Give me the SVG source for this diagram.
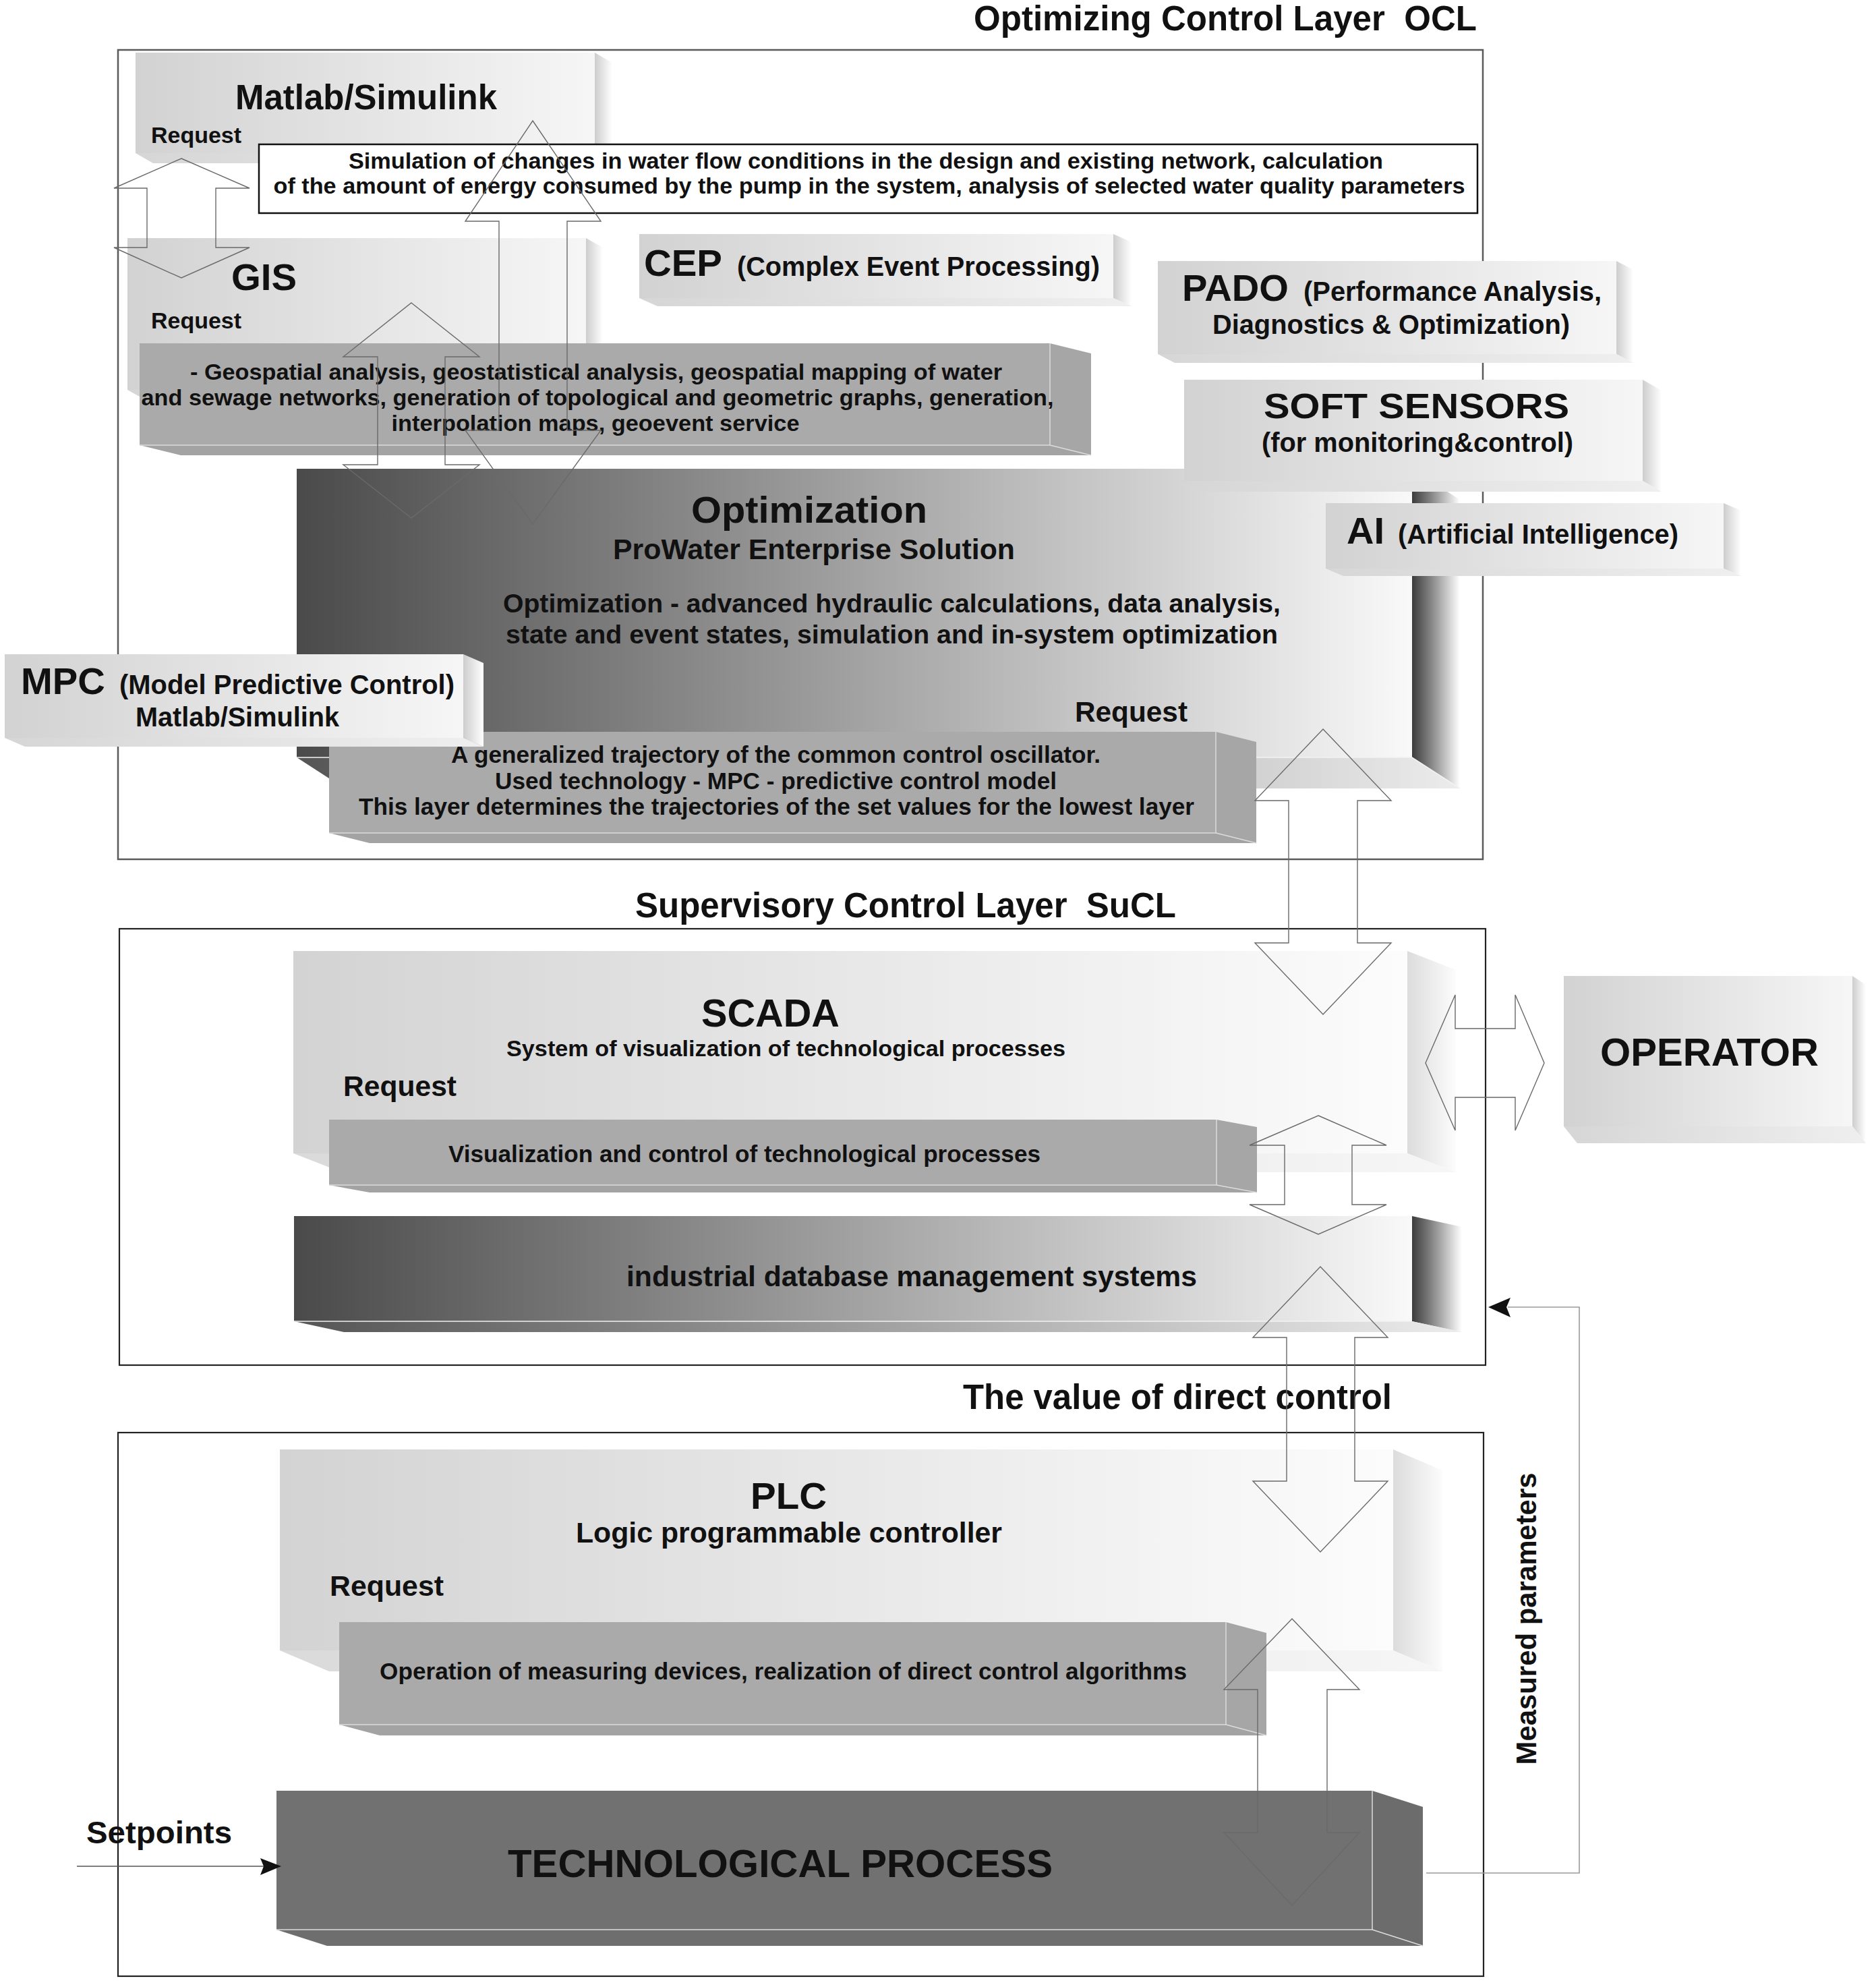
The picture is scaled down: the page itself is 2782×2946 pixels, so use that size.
<svg xmlns="http://www.w3.org/2000/svg" width="2782" height="2946" viewBox="0 0 2782 2946">
<style>
.t{font-family:"Liberation Sans",Arial,sans-serif;font-weight:bold;fill:#111;white-space:pre}
.frameA{fill:none;stroke:#5a5a5a;stroke-width:2.5}
.frameB{fill:none;stroke:#222;stroke-width:2.2}
.arrow{fill:none;stroke:#6a6a6a;stroke-width:1.4;stroke-linejoin:miter}
.mid{fill:#aaaaaa}
.midS{fill:#a6a6a6}
.midB{fill:#a3a3a3}
.hl{fill:none;stroke:#dcdcdc;stroke-width:1.5}
.hlw{fill:none;stroke:#f2f2f2;stroke-width:1.5}
.tp{fill:#717171}
.tpS{fill:#6c6c6c}
.tpB{fill:#6e6e6e}
</style>
<defs>
<linearGradient id="gL" x1="0" y1="0" x2="1" y2="0"><stop offset="0" stop-color="#d2d2d2"/><stop offset="1" stop-color="#f6f6f6"/></linearGradient>
<linearGradient id="gLS" x1="0" y1="0" x2="1" y2="0"><stop offset="0" stop-color="#cdcdcd"/><stop offset="1" stop-color="#ffffff"/></linearGradient>
<linearGradient id="gLB" x1="0" y1="0" x2="1" y2="0"><stop offset="0" stop-color="#d6d6d6"/><stop offset="1" stop-color="#efefef"/></linearGradient>
<linearGradient id="gP" x1="0" y1="0" x2="1" y2="0"><stop offset="0" stop-color="#d3d3d3"/><stop offset="1" stop-color="#fcfcfc"/></linearGradient>
<linearGradient id="gPS" x1="0" y1="0" x2="1" y2="0"><stop offset="0" stop-color="#dcdcdc"/><stop offset="1" stop-color="#fcfcfc"/></linearGradient>
<linearGradient id="gPB" x1="0" y1="0" x2="1" y2="0"><stop offset="0" stop-color="#dadada"/><stop offset="1" stop-color="#f6f6f6"/></linearGradient>
<linearGradient id="gD" x1="0" y1="0" x2="1" y2="0"><stop offset="0" stop-color="#4a4a4a"/><stop offset="1" stop-color="#f9f9f9"/></linearGradient>
<linearGradient id="gDS" x1="0" y1="0" x2="1" y2="0"><stop offset="0" stop-color="#3c3c3c"/><stop offset="0.35" stop-color="#7c7c7c"/><stop offset="1" stop-color="#ffffff"/></linearGradient>
<linearGradient id="gDB" x1="0" y1="0" x2="1" y2="0"><stop offset="0" stop-color="#555555"/><stop offset="1" stop-color="#ececec"/></linearGradient>
</defs>
<rect width="2782" height="2946" fill="#ffffff"/>

<g id="layer-ocl">
<rect class="frameA" x="175" y="74" width="2024" height="1200"/>
<text class="t" x="1444" y="45" font-size="51" textLength="746" lengthAdjust="spacingAndGlyphs">Optimizing Control Layer  OCL</text>
</g>

<g id="matlab">
<polygon points="882,78 908,93 908,242 882,227" fill="url(#gLS)"/>
<polygon points="201,227 882,227 908,242 227,242" fill="url(#gLB)"/>
<rect x="201" y="78" width="681" height="149" fill="url(#gL)"/>
<text class="t" x="349" y="162" font-size="51" textLength="388" lengthAdjust="spacingAndGlyphs">Matlab/Simulink</text>
<text class="t" x="224" y="212" font-size="34" textLength="134" lengthAdjust="spacingAndGlyphs">Request</text>
</g>

<g id="gis">
<polygon points="869,353 894,367 894,592 869,578" fill="url(#gLS)"/>
<polygon points="189,578 869,578 894,592 214,592" fill="url(#gLB)"/>
<rect x="189" y="353" width="680" height="225" fill="url(#gL)"/>
<text class="t" x="343" y="430" font-size="56" textLength="97" lengthAdjust="spacingAndGlyphs">GIS</text>
<text class="t" x="224" y="487" font-size="34" textLength="134" lengthAdjust="spacingAndGlyphs">Request</text>
</g>

<g id="cep">
<polygon points="1651,347 1678,359 1678,454 1651,442" fill="url(#gLS)"/>
<polygon points="948,442 1651,442 1678,454 975,454" fill="url(#gLB)"/>
<rect x="948" y="347" width="703" height="95" fill="url(#gL)"/>
<text class="t" x="955" y="409" font-size="56" textLength="116" lengthAdjust="spacingAndGlyphs">CEP</text>
<text class="t" x="1093" y="409" font-size="40" textLength="538" lengthAdjust="spacingAndGlyphs">(Complex Event Processing)</text>
</g>

<g id="pado">
<polygon points="2397,387 2422,400 2422,538 2397,525" fill="url(#gLS)"/>
<polygon points="1717,525 2397,525 2422,538 1742,538" fill="url(#gLB)"/>
<rect x="1717" y="387" width="680" height="138" fill="url(#gL)"/>
<text class="t" x="1753" y="446" font-size="55" textLength="158" lengthAdjust="spacingAndGlyphs">PADO</text>
<text class="t" x="1933" y="446" font-size="40" textLength="442" lengthAdjust="spacingAndGlyphs">(Performance Analysis,</text>
<text class="t" x="1798" y="495" font-size="40" textLength="530" lengthAdjust="spacingAndGlyphs">Diagnostics &amp; Optimization)</text>
</g>

<g id="geospatial">
<polygon class="midS" points="1557,509 1618,524 1618,675 1557,660"/>
<polygon class="midB" points="207,660 1557,660 1618,675 268,675"/>
<rect class="mid" x="207" y="509" width="1350" height="151"/>
<polyline class="hl" points="207,660 1557,660 1557,509"/>
<line class="hl" x1="1557" y1="660" x2="1618" y2="675"/>
<text class="t" x="884" y="563" font-size="34" text-anchor="middle" textLength="1204" lengthAdjust="spacingAndGlyphs">- Geospatial analysis, geostatistical analysis, geospatial mapping of water</text>
<text class="t" x="886" y="601" font-size="34" text-anchor="middle" textLength="1353" lengthAdjust="spacingAndGlyphs">and sewage networks, generation of topological and geometric graphs, generation,</text>
<text class="t" x="883" y="639" font-size="34" text-anchor="middle" textLength="605" lengthAdjust="spacingAndGlyphs">interpolation maps, geoevent service</text>
</g>

<g id="optimization">
<polygon points="2094,695 2165,741 2165,1169 2094,1123" fill="url(#gDS)"/>
<polygon points="440,1123 2094,1123 2165,1169 511,1169" fill="url(#gDB)"/>
<rect x="440" y="695" width="1654" height="428" fill="url(#gD)"/>
<polyline class="hlw" points="440,1123 2094,1123 2165,1169"/>
<text class="t" x="1025" y="775" font-size="56" textLength="350" lengthAdjust="spacingAndGlyphs">Optimization</text>
<text class="t" x="909" y="829" font-size="42" textLength="596" lengthAdjust="spacingAndGlyphs">ProWater Enterprise Solution</text>
<text class="t" x="746" y="908" font-size="39" textLength="1153" lengthAdjust="spacingAndGlyphs">Optimization - advanced hydraulic calculations, data analysis,</text>
<text class="t" x="750" y="954" font-size="39" textLength="1145" lengthAdjust="spacingAndGlyphs">state and event states, simulation and in-system optimization</text>
<text class="t" x="1594" y="1070" font-size="42" textLength="167" lengthAdjust="spacingAndGlyphs">Request</text>
</g>

<g id="soft-sensors">
<polygon points="2436,563 2464,579 2464,729 2436,713" fill="url(#gLS)"/>
<polygon points="1756,713 2436,713 2464,729 1784,729" fill="url(#gLB)"/>
<rect x="1756" y="563" width="680" height="150" fill="url(#gL)"/>
<text class="t" x="1874" y="620" font-size="51" textLength="453" lengthAdjust="spacingAndGlyphs">SOFT SENSORS</text>
<text class="t" x="1871" y="670" font-size="40" textLength="462" lengthAdjust="spacingAndGlyphs">(for monitoring&amp;control)</text>
</g>

<g id="ai">
<polygon points="2556,746 2582,757 2582,854 2556,843" fill="url(#gLS)"/>
<polygon points="1966,843 2556,843 2582,854 1992,854" fill="url(#gLB)"/>
<rect x="1966" y="746" width="590" height="97" fill="url(#gL)"/>
<text class="t" x="1997" y="806" font-size="56" textLength="56" lengthAdjust="spacingAndGlyphs">AI</text>
<text class="t" x="2073" y="806" font-size="40" textLength="416" lengthAdjust="spacingAndGlyphs">(Artificial Intelligence)</text>
</g>

<g id="trajectory">
<polygon class="midS" points="1803,1085 1863,1100 1863,1250 1803,1235"/>
<polygon class="midB" points="488,1235 1803,1235 1863,1250 548,1250"/>
<rect class="mid" x="488" y="1085" width="1315" height="150"/>
<polyline class="hl" points="488,1235 1803,1235 1803,1085"/>
<line class="hl" x1="1803" y1="1235" x2="1863" y2="1250"/>
<text class="t" x="669" y="1131" font-size="35" textLength="963" lengthAdjust="spacingAndGlyphs">A generalized trajectory of the common control oscillator.</text>
<text class="t" x="734" y="1170" font-size="35" textLength="833" lengthAdjust="spacingAndGlyphs">Used technology - MPC - predictive control model</text>
<text class="t" x="532" y="1208" font-size="35" textLength="1239" lengthAdjust="spacingAndGlyphs">This layer determines the trajectories of the set values for the lowest layer</text>
</g>

<g id="mpc">
<polygon points="687,970 717,983 717,1107 687,1094" fill="url(#gLS)"/>
<polygon points="7,1094 687,1094 717,1107 37,1107" fill="url(#gLB)"/>
<rect x="7" y="970" width="680" height="124" fill="url(#gL)"/>
<text class="t" x="31" y="1029" font-size="56" textLength="125" lengthAdjust="spacingAndGlyphs">MPC</text>
<text class="t" x="177" y="1029" font-size="40" textLength="497" lengthAdjust="spacingAndGlyphs">(Model Predictive Control)</text>
<text class="t" x="201" y="1077" font-size="40" textLength="302" lengthAdjust="spacingAndGlyphs">Matlab/Simulink</text>
</g>

<g id="simulation-note">
<rect x="384" y="214" width="1807" height="102" fill="#ffffff" stroke="#111" stroke-width="2.5"/>
<text class="t" x="1284" y="250" font-size="34" text-anchor="middle" textLength="1534" lengthAdjust="spacingAndGlyphs">Simulation of changes in water flow conditions in the design and existing network, calculation</text>
<text class="t" x="1289" y="287" font-size="34" text-anchor="middle" textLength="1767" lengthAdjust="spacingAndGlyphs">of the amount of energy consumed by the pump in the system, analysis of selected water quality parameters</text>
</g>

<g id="layer-sucl">
<rect class="frameB" x="177" y="1377" width="2026" height="647"/>
<text class="t" x="942" y="1360" font-size="51" textLength="802" lengthAdjust="spacingAndGlyphs">Supervisory Control Layer  SuCL</text>
</g>

<g id="scada">
<polygon points="2087,1410 2159,1438 2159,1738 2087,1710" fill="url(#gPS)"/>
<polygon points="435,1710 2087,1710 2159,1738 507,1738" fill="url(#gPB)"/>
<rect x="435" y="1410" width="1652" height="300" fill="url(#gP)"/>
<text class="t" x="1040" y="1522" font-size="57" textLength="205" lengthAdjust="spacingAndGlyphs">SCADA</text>
<text class="t" x="751" y="1566" font-size="34" textLength="829" lengthAdjust="spacingAndGlyphs">System of visualization of technological processes</text>
<text class="t" x="509" y="1625" font-size="42" textLength="168" lengthAdjust="spacingAndGlyphs">Request</text>
</g>

<g id="visualization">
<polygon class="midS" points="1804,1660 1864,1671 1864,1768 1804,1757"/>
<polygon class="midB" points="488,1757 1804,1757 1864,1768 548,1768"/>
<rect class="mid" x="488" y="1660" width="1316" height="97"/>
<polyline class="hl" points="488,1757 1804,1757 1804,1660"/>
<line class="hl" x1="1804" y1="1757" x2="1864" y2="1768"/>
<text class="t" x="665" y="1723" font-size="35" textLength="878" lengthAdjust="spacingAndGlyphs">Visualization and control of technological processes</text>
</g>

<g id="database">
<polygon points="2094,1803 2168,1819 2168,1975 2094,1959" fill="url(#gDS)"/>
<polygon points="436,1959 2094,1959 2168,1975 510,1975" fill="url(#gDB)"/>
<rect x="436" y="1803" width="1658" height="156" fill="url(#gD)"/>
<polyline class="hlw" points="436,1959 2094,1959"/>
<text class="t" x="929" y="1907" font-size="42" textLength="846" lengthAdjust="spacingAndGlyphs">industrial database management systems</text>
</g>

<g id="operator">
<polygon points="2747,1447 2767,1460 2767,1695 2747,1670" fill="url(#gLS)"/>
<polygon points="2319,1670 2747,1670 2767,1695 2339,1695" fill="url(#gLB)"/>
<rect x="2319" y="1447" width="428" height="223" fill="url(#gL)"/>
<text class="t" x="2373" y="1580" font-size="57" textLength="324" lengthAdjust="spacingAndGlyphs">OPERATOR</text>
</g>

<g id="layer-direct">
<rect class="frameB" x="175" y="2124" width="2025" height="806"/>
<text class="t" x="1428" y="2089" font-size="51" textLength="636" lengthAdjust="spacingAndGlyphs">The value of direct control</text>
</g>

<g id="plc">
<polygon points="2066,2149 2139,2180 2139,2478 2066,2447" fill="url(#gPS)"/>
<polygon points="415,2447 2066,2447 2139,2478 488,2478" fill="url(#gPB)"/>
<rect x="415" y="2149" width="1651" height="298" fill="url(#gP)"/>
<text class="t" x="1113" y="2237" font-size="56" textLength="113" lengthAdjust="spacingAndGlyphs">PLC</text>
<text class="t" x="854" y="2287" font-size="42" textLength="632" lengthAdjust="spacingAndGlyphs">Logic programmable controller</text>
<text class="t" x="489" y="2366" font-size="42" textLength="169" lengthAdjust="spacingAndGlyphs">Request</text>
</g>

<g id="operation">
<polygon class="midS" points="1818,2405 1878,2421 1878,2573 1818,2557"/>
<polygon class="midB" points="503,2557 1818,2557 1878,2573 563,2573"/>
<rect class="mid" x="503" y="2405" width="1315" height="152"/>
<polyline class="hl" points="503,2557 1818,2557 1818,2405"/>
<line class="hl" x1="1818" y1="2557" x2="1878" y2="2573"/>
<text class="t" x="563" y="2490" font-size="35" textLength="1197" lengthAdjust="spacingAndGlyphs">Operation of measuring devices, realization of direct control algorithms</text>
</g>

<g id="technological-process">
<polygon class="tpS" points="2035,2655 2110,2679 2110,2885 2035,2861"/>
<polygon class="tpB" points="410,2861 2035,2861 2110,2885 485,2885"/>
<rect class="tp" x="410" y="2655" width="1625" height="206"/>
<polyline class="hl" points="410,2861 2035,2861 2035,2655"/>
<line class="hl" x1="2035" y1="2861" x2="2110" y2="2885"/>
<text class="t" x="753" y="2783" font-size="57" textLength="808" lengthAdjust="spacingAndGlyphs">TECHNOLOGICAL PROCESS</text>
</g>

<g id="labels">
<text class="t" x="128" y="2733" font-size="46" textLength="216" lengthAdjust="spacingAndGlyphs">Setpoints</text>
<text class="t" transform="translate(2278,2400) rotate(-90)" x="0" y="0" font-size="42" text-anchor="middle" textLength="433" lengthAdjust="spacingAndGlyphs">Measured parameters</text>
</g>

<g id="connectors">
<polygon class="arrow" points="269,235 370,279 320,279 320,367 370,367 269,412 169,367 218,367 218,279 169,279"/>
<polygon class="arrow" points="790,179 891,328 841,328 841,638 891,638 790,777 690,638 740,638 740,328 690,328"/>
<polygon class="arrow" points="610,449 711,529 660,529 660,689 711,689 610,768 509,689 560,689 560,529 509,529"/>
<polygon class="arrow" points="1962,1081 2063,1187 2013,1187 2013,1398 2063,1398 1962,1504 1861,1398 1911,1398 1911,1187 1861,1187"/>
<polygon class="arrow" points="1955,1654 2056,1698 2005,1698 2005,1786 2056,1786 1955,1830 1853,1786 1905,1786 1905,1698 1853,1698"/>
<polygon class="arrow" points="1958,1878 2058,1983 2009,1983 2009,2196 2058,2196 1958,2301 1858,2196 1908,2196 1908,1983 1858,1983"/>
<polygon class="arrow" points="1916,2400 2016,2505 1968,2505 1968,2717 2016,2717 1916,2825 1815,2717 1865,2717 1865,2505 1815,2505"/>
<polygon class="arrow" points="2114,1576 2158,1475 2158,1525 2247,1525 2247,1475 2290,1576 2247,1676 2247,1627 2158,1627 2158,1676"/>
<polyline points="2115,2777 2342,2777 2342,1938 2236,1938" fill="none" stroke="#9a9a9a" stroke-width="1.6"/>
<polygon points="2207,1938 2240,1924 2234,1938 2240,1953" fill="#111"/>
<line x1="114" y1="2767" x2="392" y2="2767" stroke="#555" stroke-width="1.5"/>
<polygon points="417,2767 386,2755 391,2767 386,2780" fill="#111"/>
</g>
</svg>
